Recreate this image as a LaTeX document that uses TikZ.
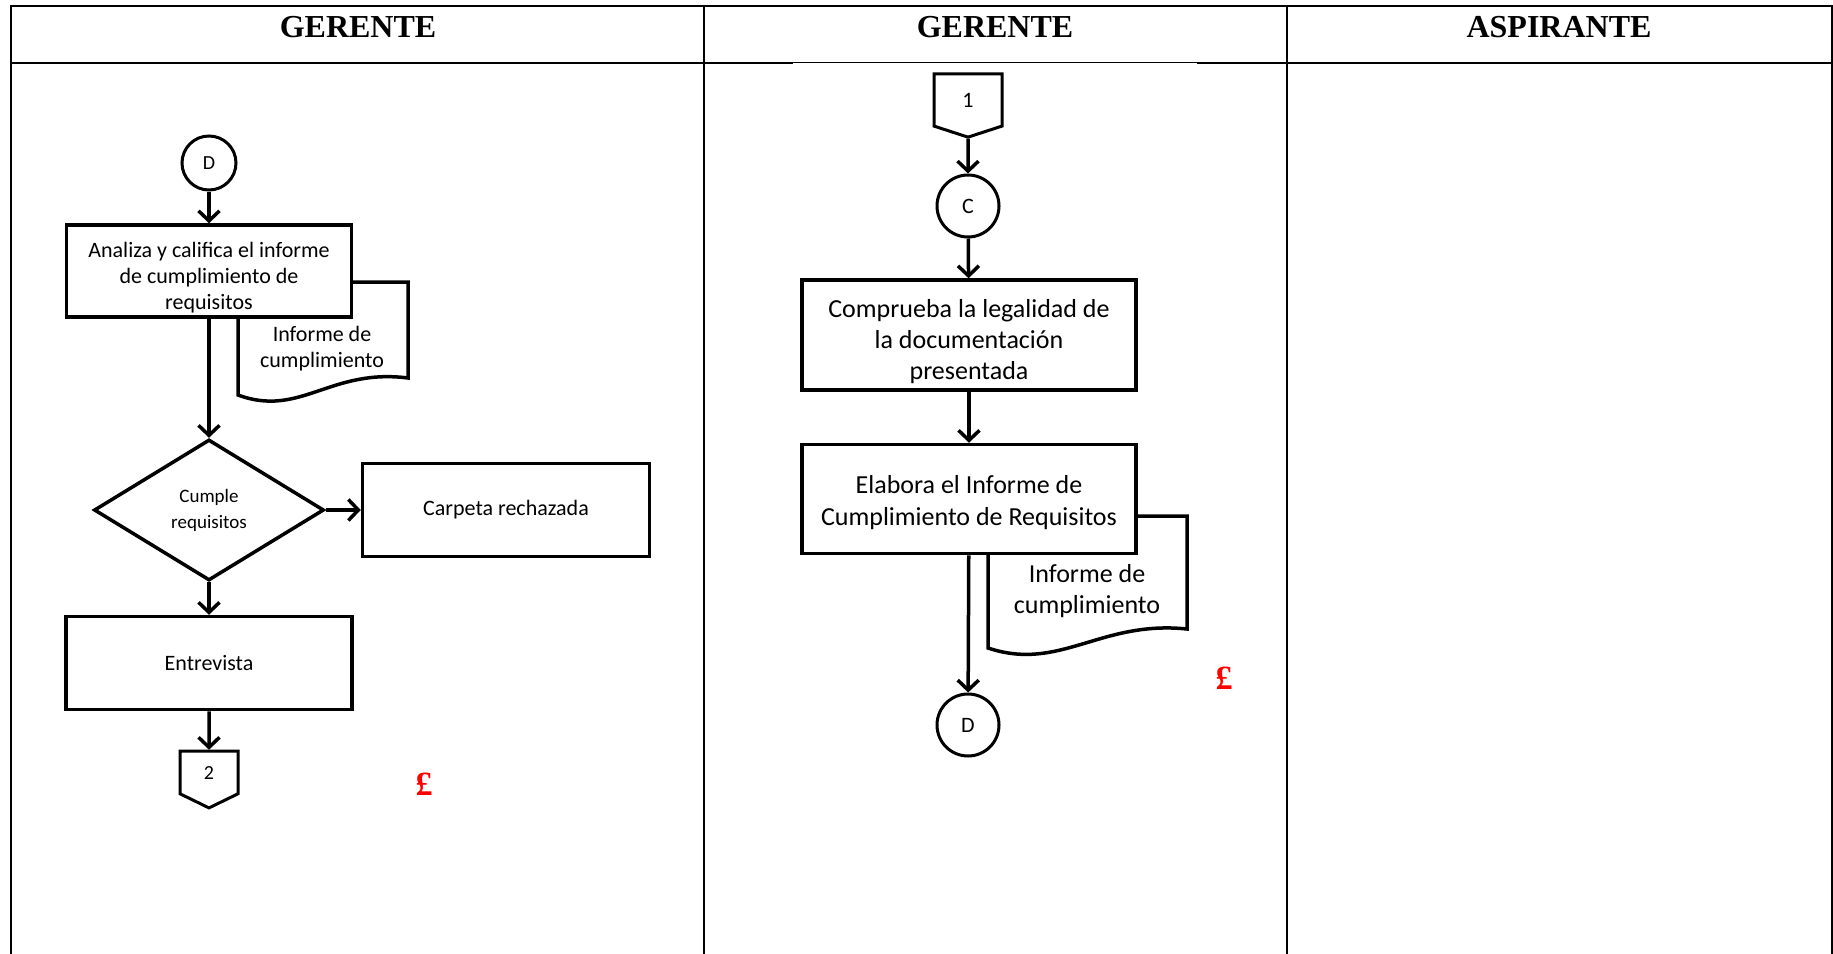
\documentclass[tikz,border=0pt]{standalone}
\usepackage{fontspec}
\setmainfont{Carlito}
\newfontfamily\headfont{Liberation Serif}
\usetikzlibrary{shapes.geometric, shapes.symbols, arrows.meta, backgrounds}

\begin{document}
\begin{tikzpicture}[x=1pt, y=-1pt,
  proc/.style={rectangle, draw, line width=3.5pt, fill=white, align=center, inner sep=2pt},
  conn/.style={circle, draw, line width=3pt, fill=white, inner sep=0pt},
  offpage/.style={signal, signal to=south, signal from=nowhere, draw, line width=3pt, fill=white, inner sep=0pt},
  doc/.style={line width=3.5pt, fill=white},
  flow/.style={-{Straight Barb[length=10pt,width=21pt]}, line width=3.5pt},
  head/.style={font=\headfont\bfseries\fontsize{32}{36}\selectfont, anchor=base},
  poundmark/.style={font=\headfont\bfseries\fontsize{34}{38}\selectfont, text=red},
  grid/.style={line width=2pt, line cap=rect}
]
\useasboundingbox (0,0) rectangle (1833,953);

% table
\draw[grid] (11,5.7) -- (1832,5.7);
\draw[grid] (11,62.5) -- (792,62.5);
\draw[line width=1pt] (792,62.5) -- (1198,62.5);
\draw[grid] (1198,62.5) -- (1832,62.5);
\draw[grid] (11,5.7) -- (11,953);
\draw[grid] (704,5.7) -- (704,953);
\draw[grid] (1287,5.7) -- (1287,953);
\draw[grid] (1832,5.7) -- (1832,953);
\node[head] (h1) at (358,37.5) {GERENTE};
\node[head] (h2) at (995,37.5) {GERENTE};
\node[head] (h3) at (1559,37.5) {ASPIRANTE};

% first column
\node[conn, minimum size=54pt, font=\fontsize{20}{22}\selectfont] (d1) at (209,163) {D};
\node[proc, minimum width=285pt, minimum height=92pt, text height=80pt, font=\fontsize{22}{26}\selectfont] (analiza) at (209,271) {Analiza y califica el informe\\de cumplimiento de\\requisitos};
\node[align=center, font=\fontsize{22}{26}\selectfont] (inf1) at (322,349) {Informe de\\cumplimiento};
\node[diamond, draw, line width=3.5pt, minimum width=230pt, minimum height=141pt, inner sep=0pt, align=center, font=\fontsize{19}{26}\selectfont] (cumple) at (209,510) {Cumple\\requisitos};
\node[proc, minimum width=287pt, minimum height=93pt, font=\fontsize{22}{26}\selectfont] (carpeta) at (506,510) {Carpeta rechazada};
\node[proc, minimum width=286pt, minimum height=93pt, font=\fontsize{22}{26}\selectfont] (entrevista) at (209,663) {Entrevista};
\node[offpage, minimum width=58pt, minimum height=45pt, signal pointer angle=128, font=\fontsize{20}{22}\selectfont] (p2) at (209,772.5) {2};
\node[poundmark] (lb1) at (424,784) {£};

\draw[flow] (d1) -- (analiza);
\draw[flow] (analiza) -- (cumple);
\draw[flow] (cumple) -- (carpeta);
\draw[flow] (cumple) -- (entrevista);
\draw[flow] (entrevista) -- (p2);

% second column
\node[offpage, minimum width=68pt, minimum height=54pt, signal pointer angle=144, font=\fontsize{22}{24}\selectfont] (p1) at (968,100) {1};
\node[conn, minimum size=62pt, font=\fontsize{22}{24}\selectfont] (c) at (968,206) {C};
\node[proc, minimum width=334pt, minimum height=110pt, text height=93pt, font=\fontsize{26}{31}\selectfont] (comprueba) at (969,335) {Comprueba la legalidad de\\la documentación\\presentada};
\node[proc, minimum width=334pt, minimum height=109pt, text height=57pt, font=\fontsize{26}{32}\selectfont] (elabora) at (969,499) {Elabora el Informe de\\Cumplimiento de Requisitos};
\node[align=center, font=\fontsize{26}{31}\selectfont] (inf2) at (1087,591) {Informe de\\cumplimiento};
\node[conn, minimum size=62pt, font=\fontsize{22}{24}\selectfont] (d2) at (968,725) {D};
\node[poundmark] (lb2) at (1224,678) {£};

\draw[flow] (p1) -- (c);
\draw[flow] (c) -- (comprueba);
\draw[flow] (comprueba) -- (elabora);
\draw[flow] (elabora) -- (d2);

% documents behind the boxes
\begin{scope}[on background layer]
\draw[doc] (230,282) -- (408,282) -- (408,378) .. controls (330,368) and (300,418) .. (238,395) -- (238,300);
\draw[doc] (980,516) -- (1187,516) -- (1187,629) .. controls (1100,620) and (1060,672) .. (988,648) -- (988,540);
\end{scope}
\end{tikzpicture}
\end{document}
